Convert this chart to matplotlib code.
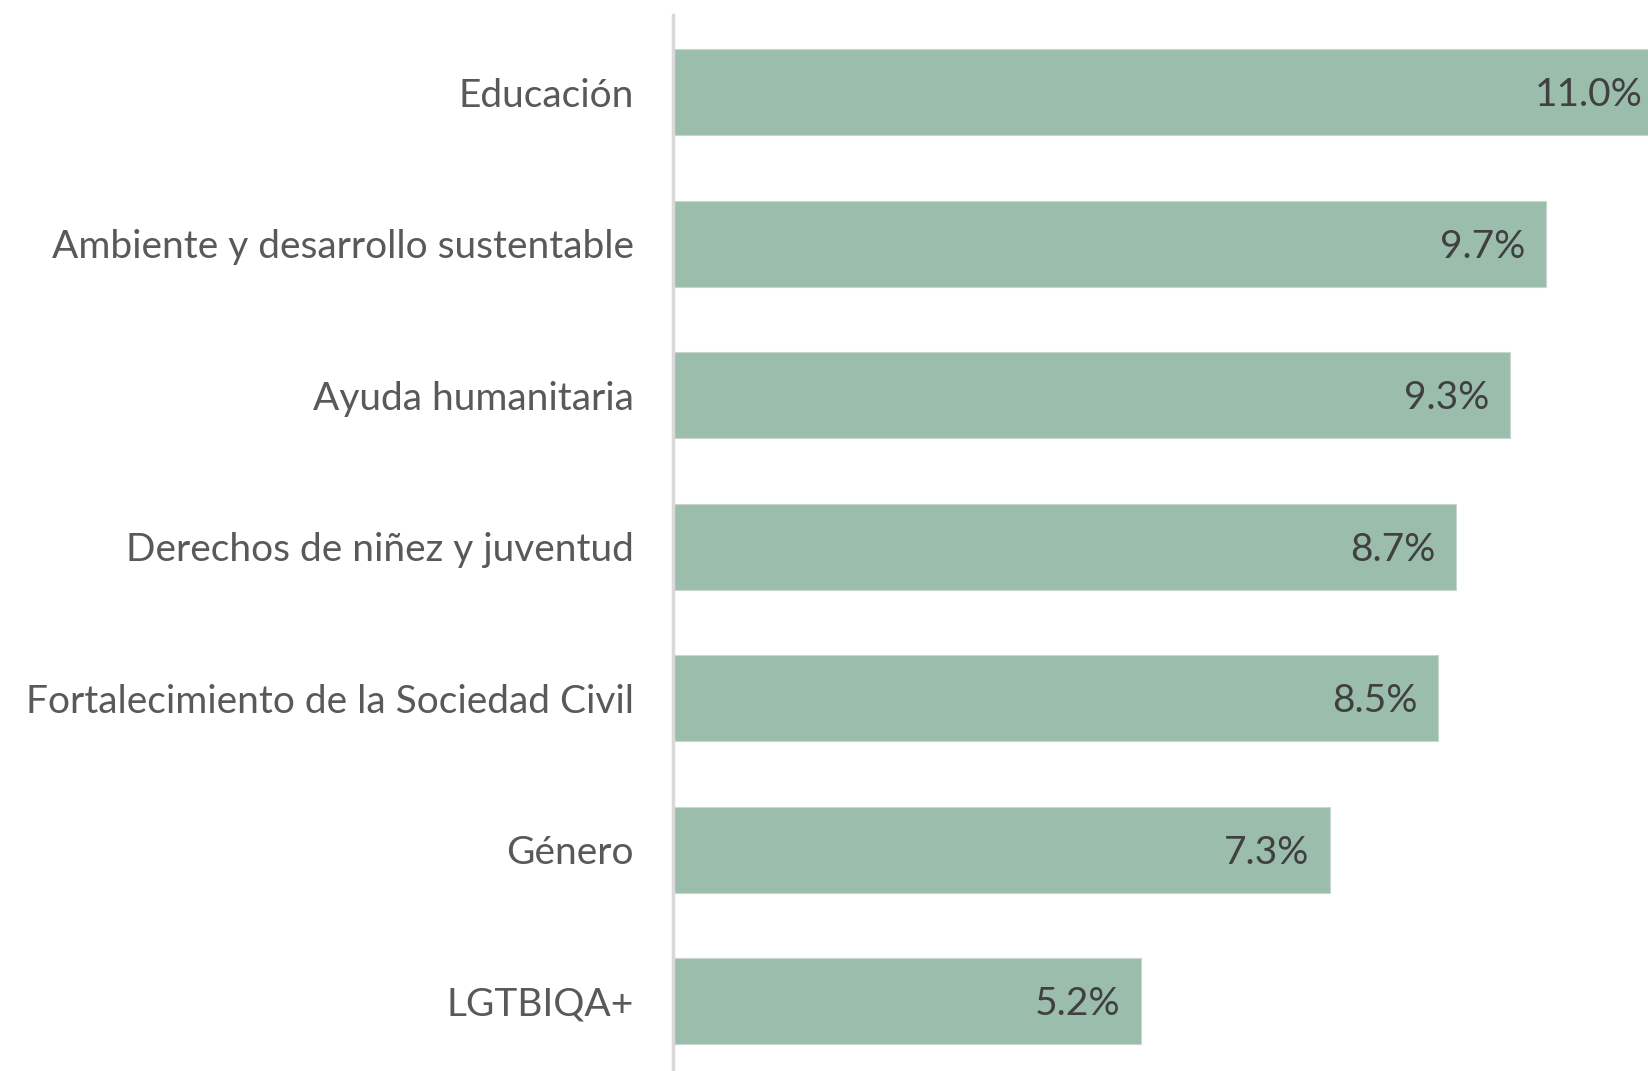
import matplotlib
matplotlib.use('Agg')
import matplotlib.pyplot as plt

plt.rcParams['font.family'] = ['Lato', 'DejaVu Sans']

categories = ['Educación', 'Ambiente y desarrollo sustentable', 'Ayuda humanitaria',
              'Derechos de niñez y juventud', 'Fortalecimiento de la Sociedad Civil',
              'Género', 'LGTBIQA+']
values = [11.0, 9.7, 9.3, 8.7, 8.5, 7.3, 5.2]
labels = ['11.0%', '9.7%', '9.3%', '8.7%', '8.5%', '7.3%', '5.2%']

fig = plt.figure(figsize=(16.49, 10.71), dpi=100)
ax = fig.add_axes([673 / 1649, 0, 1 - 673 / 1649, 1 - 15 / 1071])

y = range(len(categories))
ax.barh(y, values, height=0.57, color='#9bbdab', edgecolor='#c9d6cf', linewidth=0.8)

for yi, v, lab in zip(y, values, labels):
    ax.annotate(lab, (v, yi), xytext=(-15, -2), textcoords='offset points',
                ha='right', va='center', fontsize=28, color='#404040',
                annotation_clip=False)

ax.set_xlim(0, 10.84)
ax.set_ylim(6.46, -0.51)
ax.set_yticks(list(y))
ax.set_yticklabels(categories, fontsize=28, color='#595959')
ax.tick_params(axis='y', length=0, pad=28)
ax.set_xticks([])
for s in ['top', 'right', 'bottom']:
    ax.spines[s].set_visible(False)
ax.spines['left'].set_color('#d9d9d9')
ax.spines['left'].set_linewidth(2.5)

fig.savefig('out.png', dpi=100)
